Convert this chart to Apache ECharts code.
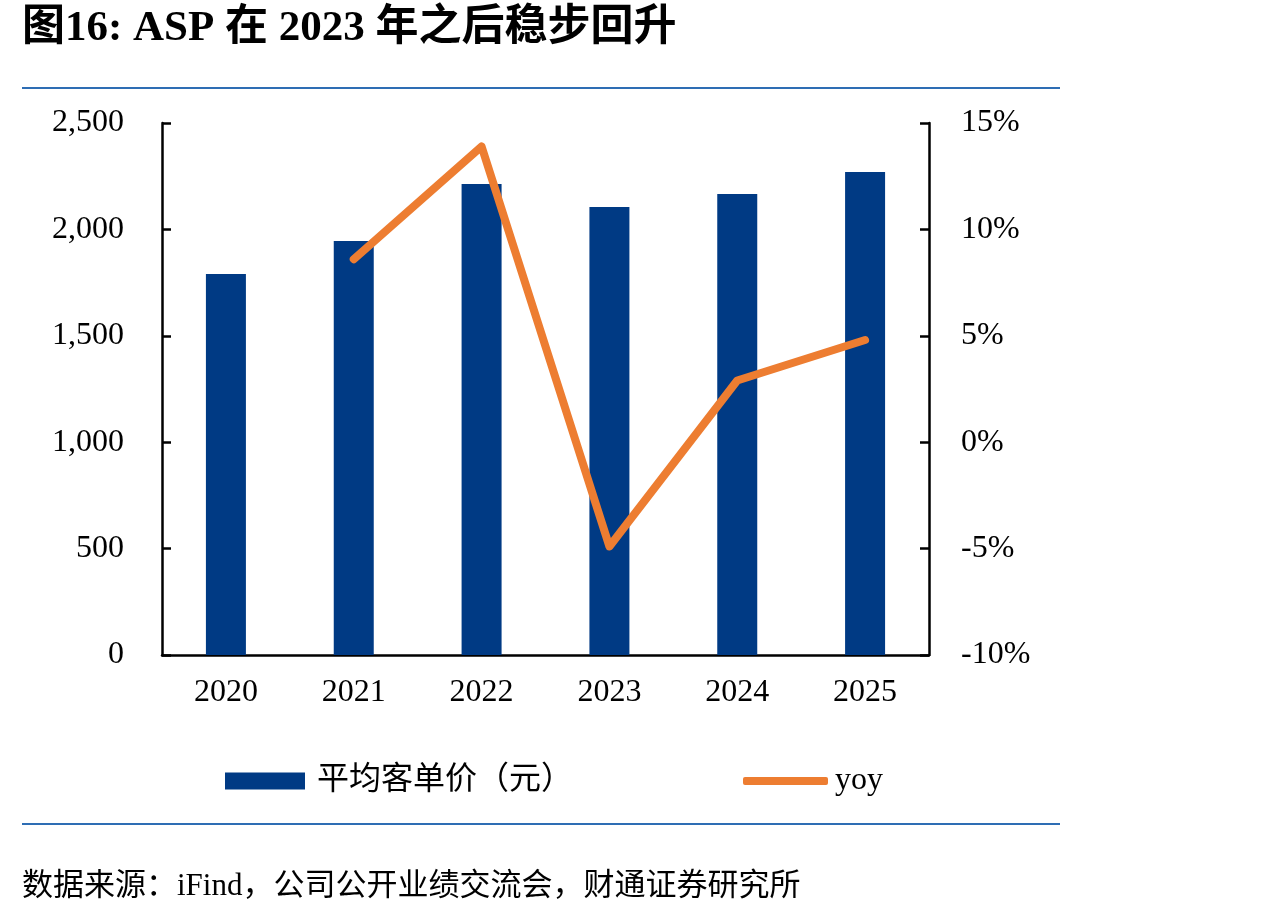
<!DOCTYPE html>
<html>
<head>
<meta charset="utf-8">
<title>ASP 在 2023 年之后稳步回升</title>
<script type="text/javascript" src="https://cdn.jsdelivr.net/npm/echarts@6/dist/echarts.min.js"></script>
<style>
  html, body { margin: 0; padding: 0; background: #fff; }
  #chart { width: 1273px; height: 920px; }
</style>
</head>
<body>
<div id="chart"></div>
<script type="text/javascript">
    var years = ['2020', '2021', '2022', '2023', '2024', '2025'];
    var asp = [1790, 1945, 2213, 2105, 2166, 2270];   // 平均客单价（元）
    var yoy = ['-', 8.6, 13.9, -4.9, 2.9, 4.8];       // %

    var serif = '"Liberation Serif", "Times New Roman", "Noto Sans CJK SC", serif';
    var blue = '#003A84';
    var orange = '#ED7D31';

    var option = {
        backgroundColor: '#fff',
        animation: false,
        textStyle: { fontFamily: serif },
        graphic: [
            {
                type: 'text', left: 22, top: 7,
                style: {
                    text: '图16: ASP 在 2023 年之后稳步回升',
                    font: 'bold 43px ' + serif,
                    fill: '#000'
                }
            },
            { // 上方分隔线
                type: 'line',
                shape: { x1: 22, y1: 88, x2: 1060, y2: 88 },
                style: { stroke: '#2E6DB4', lineWidth: 2 }
            },
            { // 下方分隔线
                type: 'line',
                shape: { x1: 22, y1: 824, x2: 1060, y2: 824 },
                style: { stroke: '#2E6DB4', lineWidth: 2 }
            },
            {
                type: 'text', left: 22, top: 871,
                style: {
                    text: '数据来源：iFind，公司公开业绩交流会，财通证券研究所',
                    font: '31px ' + serif,
                    fill: '#000'
                }
            }
        ],
        legend: [
            {
                left: 225, top: 765,
                padding: 0,
                itemWidth: 80, itemHeight: 17,
                icon: 'rect',
                textStyle: { fontSize: 32, color: '#000', fontFamily: serif, padding: [0, 0, 0, 7] },
                data: ['平均客单价（元）']
            },
            {
                left: 743, top: 765,
                padding: 0,
                itemWidth: 85, itemHeight: 8,
                icon: 'roundRect',
                textStyle: { fontSize: 32, color: '#000', fontFamily: serif, padding: [0, 0, 0, 2] },
                data: ['yoy']
            }
        ],
        grid: { left: 162, right: 344, top: 123, bottom: 265 },
        xAxis: {
            type: 'category',
            data: years,
            axisLine: { lineStyle: { color: '#000', width: 2.5 } },
            axisTick: { show: false },
            axisLabel: { color: '#000', fontSize: 32, margin: 22, fontFamily: serif }
        },
        yAxis: [
            {
                type: 'value',
                min: 0, max: 2500, interval: 500,
                splitLine: { show: false },
                axisLine: { show: true, lineStyle: { color: '#000', width: 2.5 } },
                axisTick: { show: true, inside: true, length: 9, lineStyle: { color: '#000', width: 2.5 } },
                axisLabel: {
                    color: '#000', fontSize: 32, margin: 38, fontFamily: serif,
                    formatter: function (v) { return v.toLocaleString('en-US'); }
                }
            },
            {
                type: 'value',
                min: -10, max: 15, interval: 5,
                splitLine: { show: false },
                axisLine: { show: true, lineStyle: { color: '#000', width: 2.5 } },
                axisTick: { show: true, inside: true, length: 9, lineStyle: { color: '#000', width: 2.5 } },
                axisLabel: {
                    color: '#000', fontSize: 32, margin: 32, fontFamily: serif,
                    formatter: '{value}%'
                }
            }
        ],
        series: [
            {
                name: '平均客单价（元）',
                type: 'bar',
                data: asp,
                barWidth: 40,
                itemStyle: { color: blue }
            },
            {
                name: 'yoy',
                type: 'line',
                yAxisIndex: 1,
                data: yoy,
                symbol: 'none',
                itemStyle: { color: orange },
                lineStyle: { color: orange, width: 8, cap: 'round', join: 'round' }
            }
        ]
    };

    var chart = echarts.init(document.getElementById('chart'));
    chart.setOption(option);
</script>
</body>
</html>
